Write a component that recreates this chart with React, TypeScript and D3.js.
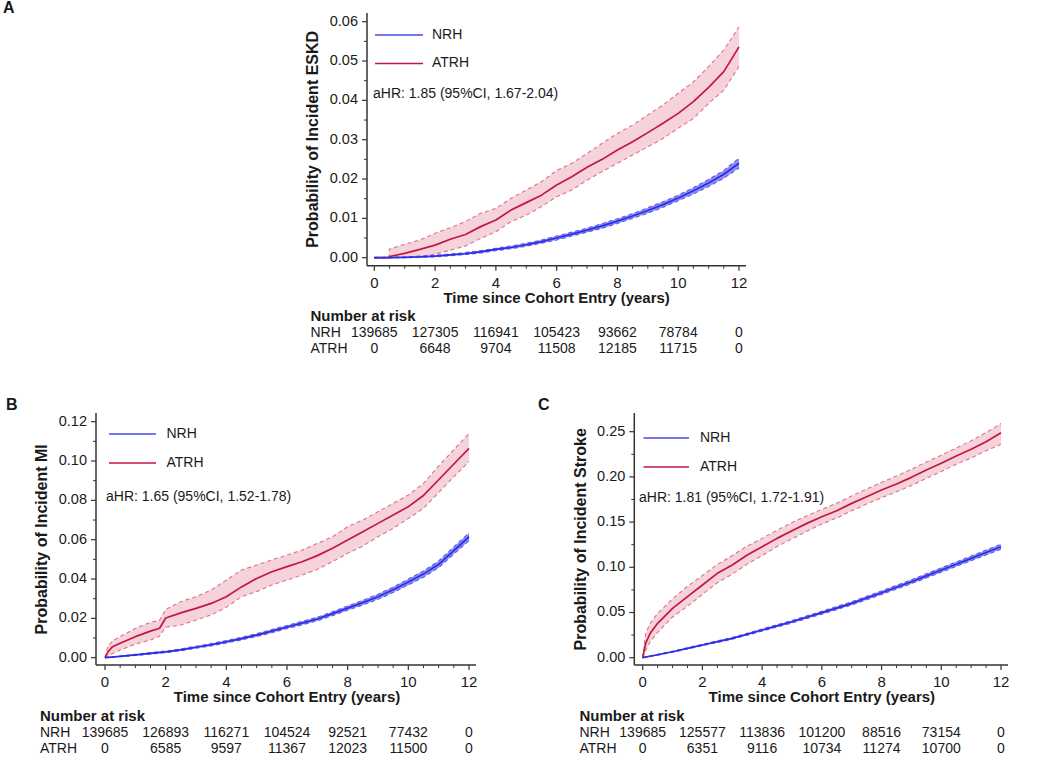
import React from "react";
import * as d3 from "d3";

// ---------------- DATA ----------------
const halfYears = [0, 0.5, 1, 1.5, 2, 2.5, 3, 3.5, 4, 4.5, 5, 5.5, 6, 6.5, 7, 7.5, 8, 8.5, 9, 9.5, 10, 10.5, 11, 11.5, 12];
const riskTimes = [0, 2, 4, 6, 8, 10, 12];
const xTicks = [0, 2, 4, 6, 8, 10, 12];

// Panel A: ESKD
const aTimesATRH = [0, 0.48, 0.5, 1, 1.5, 2, 2.5, 3, 3.5, 4, 4.5, 5, 5.5, 6, 6.5, 7, 7.5, 8, 8.5, 9, 9.5, 10, 10.5, 11, 11.5, 12];
const aEstATRH = [0, 0, 0.0003, 0.0011, 0.0021, 0.0032, 0.0047, 0.0059, 0.0079, 0.0096, 0.0121, 0.014, 0.0159, 0.0185, 0.0206, 0.023, 0.025, 0.0274, 0.0295, 0.0318, 0.0342, 0.0367, 0.0397, 0.0433, 0.0473, 0.0536];
const aUpATRH = [0, 0, 0.0022, 0.0034, 0.0045, 0.0062, 0.0076, 0.0092, 0.0113, 0.0125, 0.0151, 0.0172, 0.0193, 0.0222, 0.024, 0.0265, 0.0291, 0.0316, 0.0337, 0.0363, 0.0388, 0.0418, 0.0447, 0.0486, 0.0528, 0.0587];
const aLoATRH = [0, 0, 0, 0.0001, 0.0003, 0.0009, 0.0019, 0.003, 0.0049, 0.0066, 0.0092, 0.0108, 0.013, 0.0155, 0.0172, 0.0197, 0.0219, 0.024, 0.0261, 0.0282, 0.0303, 0.0329, 0.0354, 0.0392, 0.0426, 0.0486];
const aEstNRH = [0, 0.00003, 0.0001, 0.0002, 0.0004, 0.0007, 0.001, 0.0015, 0.0021, 0.0026, 0.0033, 0.0041, 0.005, 0.006, 0.007, 0.0081, 0.0093, 0.0106, 0.012, 0.0135, 0.0152, 0.017, 0.019, 0.0212, 0.024];
const aUpNRH = [0, 0.0001, 0.0002, 0.0004, 0.0006, 0.0009, 0.0013, 0.0018, 0.0024, 0.003, 0.0037, 0.0045, 0.0055, 0.0065, 0.0075, 0.0087, 0.0099, 0.0112, 0.0127, 0.0142, 0.0159, 0.0178, 0.0199, 0.0222, 0.0253];
const aLoNRH = [0, 0, 0, 0.0001, 0.0002, 0.0005, 0.0008, 0.0012, 0.0018, 0.0023, 0.0029, 0.0037, 0.0045, 0.0055, 0.0065, 0.0075, 0.0087, 0.01, 0.0113, 0.0128, 0.0145, 0.0162, 0.0181, 0.0202, 0.0228];
const aYTicks = [0, 0.01, 0.02, 0.03, 0.04, 0.05, 0.06];
const aRiskNRH = [139685, 127305, 116941, 105423, 93662, 78784, 0];
const aRiskATRH = [0, 6648, 9704, 11508, 12185, 11715, 0];

// Panel B: MI
const bTimesATRH = [0, 0.1, 0.25, 0.5, 1, 1.5, 1.8, 2, 2.5, 3, 3.5, 4, 4.5, 5, 5.5, 6, 6.5, 7, 7.5, 8, 8.5, 9, 9.5, 10, 10.5, 11, 11.5, 12];
const bEstATRH = [0, 0.003, 0.0056, 0.0073, 0.0107, 0.0135, 0.015, 0.0202, 0.0228, 0.0251, 0.0276, 0.031, 0.036, 0.0403, 0.0437, 0.0463, 0.0488, 0.0519, 0.0556, 0.0598, 0.0641, 0.0683, 0.0725, 0.0768, 0.0825, 0.0905, 0.0985, 0.1064];
const bUpATRH = [0, 0.006, 0.0086, 0.0107, 0.0149, 0.018, 0.019, 0.0245, 0.0285, 0.031, 0.0344, 0.0395, 0.0446, 0.0471, 0.0497, 0.0522, 0.0547, 0.0581, 0.0615, 0.0666, 0.07, 0.0742, 0.0785, 0.0827, 0.0886, 0.0975, 0.1058, 0.114];
const bLoATRH = [0, 0.0005, 0.0022, 0.0039, 0.0069, 0.009, 0.011, 0.0155, 0.0166, 0.0192, 0.0217, 0.0256, 0.031, 0.0336, 0.037, 0.0395, 0.042, 0.0449, 0.0488, 0.0531, 0.0568, 0.0615, 0.0658, 0.0708, 0.076, 0.084, 0.092, 0.0997];
const bEstNRH = [0, 0.0007, 0.0014, 0.0022, 0.003, 0.004, 0.0053, 0.0066, 0.0081, 0.0097, 0.0115, 0.0135, 0.0156, 0.0176, 0.0197, 0.0224, 0.0252, 0.028, 0.031, 0.0345, 0.0385, 0.0425, 0.0475, 0.0545, 0.0615];
const bUpNRH = [0, 0.0009, 0.0017, 0.0026, 0.0034, 0.0045, 0.0058, 0.0072, 0.0087, 0.0104, 0.0122, 0.0143, 0.0164, 0.0185, 0.0206, 0.0234, 0.0263, 0.0292, 0.0323, 0.0359, 0.04, 0.0441, 0.0492, 0.0563, 0.0635];
const bLoNRH = [0, 0.0005, 0.0011, 0.0018, 0.0026, 0.0035, 0.0048, 0.006, 0.0075, 0.009, 0.0108, 0.0127, 0.0148, 0.0167, 0.0188, 0.0214, 0.0241, 0.0268, 0.0297, 0.0331, 0.037, 0.0409, 0.0458, 0.0527, 0.0595];
const bYTicks = [0, 0.02, 0.04, 0.06, 0.08, 0.1, 0.12];
const bRiskNRH = [139685, 126893, 116271, 104524, 92521, 77432, 0];
const bRiskATRH = [0, 6585, 9597, 11367, 12023, 11500, 0];

// Panel C: Stroke
const cTimesATRH = [0, 0.1, 0.25, 0.5, 1, 1.5, 2, 2.5, 3, 3.5, 4, 4.5, 5, 5.5, 6, 6.5, 7, 7.5, 8, 8.5, 9, 9.5, 10, 10.5, 11, 11.5, 12];
const cEstATRH = [0, 0.016, 0.027, 0.038, 0.0546, 0.0675, 0.0804, 0.0933, 0.1025, 0.1136, 0.1228, 0.132, 0.1405, 0.1486, 0.156, 0.1626, 0.1707, 0.1781, 0.1855, 0.1921, 0.1995, 0.2076, 0.215, 0.2231, 0.2305, 0.2389, 0.2489];
const cUpATRH = [0, 0.027, 0.038, 0.049, 0.065, 0.079, 0.091, 0.103, 0.113, 0.1235, 0.132, 0.141, 0.1495, 0.157, 0.164, 0.171, 0.179, 0.1865, 0.194, 0.201, 0.2085, 0.2165, 0.224, 0.232, 0.24, 0.249, 0.259];
const cLoATRH = [0, 0.008, 0.018, 0.028, 0.045, 0.057, 0.07, 0.083, 0.0925, 0.1035, 0.113, 0.123, 0.1315, 0.14, 0.148, 0.1545, 0.1625, 0.17, 0.177, 0.1835, 0.1905, 0.1985, 0.206, 0.214, 0.221, 0.229, 0.236];
const cEstNRH = [0, 0.0033, 0.0066, 0.0103, 0.014, 0.0177, 0.0214, 0.026, 0.0306, 0.0352, 0.0398, 0.0448, 0.0498, 0.0549, 0.0601, 0.066, 0.0719, 0.078, 0.0841, 0.0905, 0.097, 0.1034, 0.1099, 0.1163, 0.1228];
const cUpNRH = [0, 0.0038, 0.0072, 0.011, 0.0148, 0.0186, 0.0224, 0.0271, 0.0318, 0.0365, 0.0412, 0.0463, 0.0514, 0.0566, 0.0619, 0.0679, 0.0739, 0.0801, 0.0863, 0.0928, 0.0994, 0.1059, 0.1125, 0.119, 0.1256];
const cLoNRH = [0, 0.0028, 0.006, 0.0096, 0.0132, 0.0168, 0.0204, 0.0249, 0.0294, 0.0339, 0.0384, 0.0433, 0.0482, 0.0532, 0.0583, 0.0641, 0.0699, 0.0759, 0.0819, 0.0882, 0.0946, 0.1009, 0.1073, 0.1136, 0.12];
const cYTicks = [0, 0.05, 0.1, 0.15, 0.2, 0.25];
const cRiskNRH = [139685, 125577, 113836, 101200, 88516, 73154, 0];
const cRiskATRH = [0, 6351, 9116, 10734, 11274, 10700, 0];

const seriesNames = ["NRH", "ATRH"];

// ---------------- STYLE ----------------
const FONT = "'Liberation Sans', Arial, Helvetica, sans-serif";
const TXT = "#1a1a1a";
const AXIS = "#333";
const BLUE = "#2d2de6";
const BLUE_BAND = "#8f8ff2";
const BLUE_DASH = "#5a5aee";
const RED = "#c3173f";
const RED_BAND = "#f6d2db";
const RED_DASH = "#d9758c";

type Curve = { t: number[]; est: number[]; up: number[]; lo: number[] };

type PanelProps = {
  letter: string;
  letterX: number;
  letterY: number;
  yAxisX: number;
  x0: number;
  x1: number;
  yZeroPx: number;
  yRefVal: number;
  yRefPx: number;
  axisTop: number;
  axisBottom: number;
  axisRight: number;
  yTicks: number[];
  yMinorStep: number;
  yTitle: string;
  legendX0: number;
  legendX1: number;
  legendY: number[];
  legendTextX: number;
  hrText: string;
  hrX: number;
  hrY: number;
  nrh: Curve;
  atrh: Curve;
  riskX: number;
  riskY: number;
  riskNRH: number[];
  riskATRH: number[];
};

function Band({ c, x, y, fill, dash }: { c: Curve; x: any; y: any; fill: string; dash: string }) {
  const idx = c.t.map((_, i) => i);
  const area = d3
    .area<number>()
    .x((i) => x(c.t[i]))
    .y0((i) => y(c.lo[i]))
    .y1((i) => y(c.up[i]));
  const up = d3.line<number>().x((i) => x(c.t[i])).y((i) => y(c.up[i]));
  const lo = d3.line<number>().x((i) => x(c.t[i])).y((i) => y(c.lo[i]));
  return (
    <g>
      <path d={area(idx) || ""} fill={fill} stroke="none" />
      <path d={up(idx) || ""} fill="none" stroke={dash} strokeWidth={1.1} strokeDasharray="4,3" />
      <path d={lo(idx) || ""} fill="none" stroke={dash} strokeWidth={1.1} strokeDasharray="4,3" />
    </g>
  );
}

function EstLine({ c, x, y, color }: { c: Curve; x: any; y: any; color: string }) {
  const idx = c.t.map((_, i) => i);
  const line = d3.line<number>().x((i) => x(c.t[i])).y((i) => y(c.est[i]));
  return <path d={line(idx) || ""} fill="none" stroke={color} strokeWidth={1.7} strokeLinejoin="round" />;
}

function Panel(p: PanelProps) {
  const x = d3.scaleLinear().domain([0, 12]).range([p.x0, p.x1]);
  const y = d3.scaleLinear().domain([0, p.yRefVal]).range([p.yZeroPx, p.yRefPx]);
  const yMax = y.invert(p.axisTop);
  const yMinor = d3.range(0, yMax, p.yMinorStep).filter((v) => !p.yTicks.some((t) => Math.abs(t - v) < 1e-9));
  const xMinor = d3.range(0, 12.001, 0.5).filter((v) => v % 2 !== 0);
  const fmt = d3.format(".2f");
  const yTitleX = p.yAxisX - 53;
  const yTitleY = (p.axisTop + p.yZeroPx) / 2 + 4;
  return (
    <g fontFamily={FONT} fill={TXT}>
      <text x={p.letterX} y={p.letterY} fontSize={16} fontWeight="bold" dominantBaseline="middle">
        {p.letter}
      </text>
      {/* bands and lines */}
      <Band c={p.atrh} x={x} y={y} fill={RED_BAND} dash={RED_DASH} />
      <Band c={p.nrh} x={x} y={y} fill={BLUE_BAND} dash={BLUE_DASH} />
      <EstLine c={p.atrh} x={x} y={y} color={RED} />
      <EstLine c={p.nrh} x={x} y={y} color={BLUE} />
      {/* axes */}
      <line x1={p.yAxisX} x2={p.yAxisX} y1={p.axisTop} y2={p.axisBottom} stroke={AXIS} strokeWidth={1.5} />
      <line x1={p.yAxisX} x2={p.axisRight} y1={p.axisBottom} y2={p.axisBottom} stroke={AXIS} strokeWidth={1.5} />
      {p.yTicks.map((v) => (
        <g key={"yt" + v}>
          <line x1={p.yAxisX - 5} x2={p.yAxisX} y1={y(v)} y2={y(v)} stroke={AXIS} strokeWidth={1.2} />
          <text x={p.yAxisX - 9} y={y(v)} fontSize={14.5} textAnchor="end" dominantBaseline="middle">
            {fmt(v)}
          </text>
        </g>
      ))}
      {yMinor.map((v) => (
        <line key={"ym" + v} x1={p.yAxisX - 3} x2={p.yAxisX} y1={y(v)} y2={y(v)} stroke={AXIS} strokeWidth={1} />
      ))}
      {xTicks.map((v) => (
        <g key={"xt" + v}>
          <line x1={x(v)} x2={x(v)} y1={p.axisBottom} y2={p.axisBottom + 5} stroke={AXIS} strokeWidth={1.2} />
          <text x={x(v)} y={p.axisBottom + 18} fontSize={15} textAnchor="middle" dominantBaseline="middle">
            {v}
          </text>
        </g>
      ))}
      {xMinor.map((v) => (
        <line key={"xm" + v} x1={x(v)} x2={x(v)} y1={p.axisBottom} y2={p.axisBottom + 3} stroke={AXIS} strokeWidth={1} />
      ))}
      <text x={(p.x0 + p.x1) / 2} y={p.axisBottom + 33} fontSize={15} fontWeight="bold" textAnchor="middle" dominantBaseline="middle">
        Time since Cohort Entry (years)
      </text>
      <text
        transform={`translate(${yTitleX},${yTitleY}) rotate(-90)`}
        fontSize={16}
        fontWeight="bold"
        textAnchor="middle"
        dominantBaseline="middle"
      >
        {p.yTitle}
      </text>
      {/* legend */}
      {seriesNames.map((n, i) => (
        <g key={n}>
          <line
            x1={p.legendX0}
            x2={p.legendX1}
            y1={p.legendY[i]}
            y2={p.legendY[i]}
            stroke={i === 0 ? "#4848ee" : RED}
            strokeWidth={1.3}
          />
          <text x={p.legendTextX} y={p.legendY[i]} fontSize={14} dominantBaseline="middle">
            {n}
          </text>
        </g>
      ))}
      <text x={p.hrX} y={p.hrY} fontSize={14} dominantBaseline="middle">
        {p.hrText}
      </text>
      {/* risk table */}
      <text x={p.riskX} y={p.riskY} fontSize={15} fontWeight="bold" dominantBaseline="middle">
        Number at risk
      </text>
      {[p.riskNRH, p.riskATRH].map((row, r) => (
        <g key={"r" + r}>
          <text x={p.riskX} y={p.riskY + 16 * (r + 1)} fontSize={14} dominantBaseline="middle">
            {seriesNames[r]}
          </text>
          {row.map((v, i) => (
            <text key={i} x={x(riskTimes[i])} y={p.riskY + 16 * (r + 1)} fontSize={14} textAnchor="middle" dominantBaseline="middle">
              {v}
            </text>
          ))}
        </g>
      ))}
    </g>
  );
}

export default function App() {
  return (
    <svg
      width={1050}
      height={767}
      viewBox="0 0 1050 767"
      style={{ position: "absolute", left: 0, top: 0, background: "#fff", display: "block" }}
    >
      <rect x={0} y={0} width={1050} height={767} fill="#fff" />
      <Panel
        letter="A"
        letterX={3}
        letterY={9}
        yAxisX={367}
        x0={374.3}
        x1={739}
        yZeroPx={257.7}
        yRefVal={0.06}
        yRefPx={21.7}
        axisTop={13}
        axisBottom={265.7}
        axisRight={746}
        yTicks={aYTicks}
        yMinorStep={0.005}
        yTitle="Probability of Incident ESKD"
        legendX0={375}
        legendX1={423}
        legendY={[35, 63.5]}
        legendTextX={432}
        hrText="aHR: 1.85 (95%CI, 1.67-2.04)"
        hrX={373}
        hrY={94}
        nrh={{ t: halfYears, est: aEstNRH, up: aUpNRH, lo: aLoNRH }}
        atrh={{ t: aTimesATRH, est: aEstATRH, up: aUpATRH, lo: aLoATRH }}
        riskX={310.5}
        riskY={317.5}
        riskNRH={aRiskNRH}
        riskATRH={aRiskATRH}
      />
      <Panel
        letter="B"
        letterX={6}
        letterY={406}
        yAxisX={96}
        x0={105}
        x1={469}
        yZeroPx={657.7}
        yRefVal={0.12}
        yRefPx={421.7}
        axisTop={413}
        axisBottom={665}
        axisRight={476}
        yTicks={bYTicks}
        yMinorStep={0.01}
        yTitle="Probability of Incident MI"
        legendX0={109}
        legendX1={156}
        legendY={[434, 463]}
        legendTextX={166.5}
        hrText="aHR: 1.65 (95%CI, 1.52-1.78)"
        hrX={106}
        hrY={497}
        nrh={{ t: halfYears, est: bEstNRH, up: bUpNRH, lo: bLoNRH }}
        atrh={{ t: bTimesATRH, est: bEstATRH, up: bUpATRH, lo: bLoATRH }}
        riskX={40}
        riskY={717}
        riskNRH={bRiskNRH}
        riskATRH={bRiskATRH}
      />
      <Panel
        letter="C"
        letterX={538}
        letterY={406}
        yAxisX={634.3}
        x0={642.7}
        x1={1001}
        yZeroPx={657.7}
        yRefVal={0.25}
        yRefPx={431.7}
        axisTop={413}
        axisBottom={665}
        axisRight={1008}
        yTicks={cYTicks}
        yMinorStep={0.025}
        yTitle="Probability of Incident Stroke"
        legendX0={643.5}
        legendX1={689}
        legendY={[438, 467]}
        legendTextX={700}
        hrText="aHR: 1.81 (95%CI, 1.72-1.91)"
        hrX={639}
        hrY={498}
        nrh={{ t: halfYears, est: cEstNRH, up: cUpNRH, lo: cLoNRH }}
        atrh={{ t: cTimesATRH, est: cEstATRH, up: cUpATRH, lo: cLoATRH }}
        riskX={579.5}
        riskY={717}
        riskNRH={cRiskNRH}
        riskATRH={cRiskATRH}
      />
    </svg>
  );
}
